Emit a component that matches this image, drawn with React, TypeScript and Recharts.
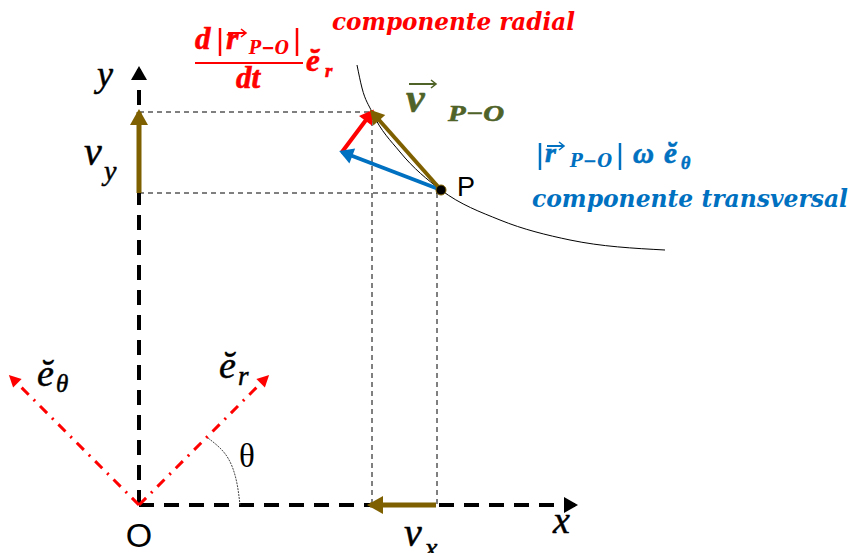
import React from 'react';
import { LineChart, Line, XAxis, YAxis, Customized } from 'recharts';

// diagram coordinates: origin O, x to the right, y up (1 unit = 1 px)
const xAxisLine = [{ x: 0, y: 0 }, { x: 436, y: 0 }];
const yAxisLine = [{ x: 0, y: 0 }, { x: 0, y: 436 }];
const vyArrow = [{ x: 0, y: 312 }, { x: 0, y: 393 }];
const vxArrow = [{ x: 297, y: 0 }, { x: 231, y: 0 }];
const guideTop = [{ x: 0, y: 393 }, { x: 233, y: 393 }];
const guideP = [{ x: 0, y: 312 }, { x: 302, y: 312 }];
const guideTipV = [{ x: 233, y: 393 }, { x: 233, y: 0 }];
const guidePV = [{ x: 298, y: 312 }, { x: 298, y: 0 }];
const velocity = [{ x: 302, y: 315 }, { x: 233, y: 393 }];
const transversal = [{ x: 302, y: 315 }, { x: 203, y: 353 }];
const radial = [{ x: 203, y: 353 }, { x: 233, y: 393 }];
const erAxis = [{ x: 0, y: 0 }, { x: 128, y: 128 }];
const ethAxis = [{ x: 0, y: 0 }, { x: -128, y: 128 }];
const thetaArc = [{ x: 101, y: 0 }, { x: 97, y: 26 }, { x: 87, y: 50 }, { x: 69, y: 67 }];
const trajectory = [
  { x: 218, y: 440 }, { x: 223, y: 417 }, { x: 233, y: 393 }, { x: 261, y: 353 },
  { x: 302, y: 315 }, { x: 361, y: 285 }, { x: 431, y: 265 }, { x: 526, y: 255 },
];
const pointP = [{ x: 302, y: 315 }];

const BROWN = '#7f6000';
const BLUE = '#0070c0';
const RED = '#ff0000';
const GREEN = '#4f6228';

const W = 851;
const H = 553;
const OX = 139;
const OY = 505;

const arrowDot = (data: { x: number; y: number }[], len: number, half: number, color: string) => (props: any) => {
  const { cx, cy, index } = props;
  if (index !== data.length - 1) return <g key={`d-${index}`} />;
  const a = data[index - 1];
  const b = data[index];
  const dx = b.x - a.x;
  const dy = -(b.y - a.y);
  const n = Math.hypot(dx, dy);
  const ux = dx / n;
  const uy = dy / n;
  const tx = cx + ux * 3;
  const ty = cy + uy * 3;
  const bx = tx - ux * len;
  const by = ty - uy * len;
  const px = -uy * half;
  const py = ux * half;
  return (
    <polygon
      key={`d-${index}`}
      points={`${tx},${ty} ${bx + px},${by + py} ${bx - px},${by - py}`}
      fill={color}
    />
  );
};

const dejavu = '"DejaVu Serif", serif';
const times = '"Liberation Serif", serif';
const sans = '"Liberation Sans", Arial, sans-serif';

// small arrow drawn above a vector letter
const OverArrow = ({ x, y, w, color, sw = 2 }: { x: number; y: number; w: number; color: string; sw?: number }) => (
  <g>
    <line x1={x} y1={y} x2={x + w - 1} y2={y} stroke={color} strokeWidth={sw} />
    <polyline points={`${x + w - 5},${y - 4} ${x + w},${y} ${x + w - 5},${y + 4}`} fill="none" stroke={color} strokeWidth={sw * 0.8} />
  </g>
);

// bold italic coloured words
const T = (p: any) => <text fontFamily={dejavu} fontWeight="bold" fontStyle="italic" {...p} />;
// bold italic coloured math letter
const L = (p: any) => (
  <text fontFamily={times} fontWeight="bold" fontStyle="italic" stroke={p.fill} strokeWidth={0.6} {...p} />
);
// italic black math letter
const M = (p: any) => (
  <text fontFamily={times} fontStyle="italic" fill="#000" stroke="#000" strokeWidth={0.5} {...p} />
);
const Bar = ({ x, y1, y2, color }: { x: number; y1: number; y2: number; color: string }) => (
  <line x1={x} y1={y1} x2={x} y2={y2} stroke={color} strokeWidth={2.5} />
);

const Labels = () => (
  <g>
    {/* red radial component */}
    <T x={332} y={30} fill={RED} fontSize={24} textLength={243} lengthAdjust="spacingAndGlyphs">componente radial</T>
    <L x={195} y={49} fill={RED} fontSize={31}>d</L>
    <Bar x={220} y1={28} y2={56} color={RED} />
    <L x={226} y={49} fill={RED} fontSize={32}>r</L>
    <OverArrow x={228} y={33} w={18} color={RED} />
    <T x={249} y={54} fill={RED} fontSize={19} textLength={40} lengthAdjust="spacingAndGlyphs">P−O</T>
    <Bar x={297} y1={28} y2={56} color={RED} />
    <line x1={195} y1={63} x2={303} y2={63} stroke={RED} strokeWidth={2} />
    <L x={248} y={88} fill={RED} fontSize={31} textAnchor="middle">dt</L>
    <L x={306} y={71} fill={RED} fontSize={31}>ĕ</L>
    <L x={325} y={77} fill={RED} fontSize={19}>r</L>

    {/* velocity label */}
    <L x={406} y={112} fill={GREEN} fontSize={42}>v</L>
    <OverArrow x={409} y={84} w={27} color={GREEN} />
    <L x={448} y={121} fill={GREEN} fontSize={23} textLength={56} lengthAdjust="spacingAndGlyphs">P−O</L>

    {/* blue transversal component */}
    <Bar x={540} y1={143} y2={170} color={BLUE} />
    <L x={545} y={162} fill={BLUE} fontSize={28}>r</L>
    <OverArrow x={547} y={146} w={17} color={BLUE} />
    <T x={570} y={167} fill={BLUE} fontSize={18} textLength={42} lengthAdjust="spacingAndGlyphs">P−O</T>
    <Bar x={620} y1={143} y2={170} color={BLUE} />
    <L x={633} y={163} fill={BLUE} fontSize={29}>ω</L>
    <L x={664} y={163} fill={BLUE} fontSize={29}>ĕ</L>
    <L x={681} y={169} fill={BLUE} fontSize={18}>θ</L>
    <T x={532} y={207} fill={BLUE} fontSize={24} textLength={316} lengthAdjust="spacingAndGlyphs">componente  transversal</T>

    {/* black labels */}
    <text x={457} y={196} fill="#000" fontFamily={sans} fontSize={27}>P</text>
    <text x={OX} y={547} fill="#000" fontFamily={sans} fontSize={34} textAnchor="middle">O</text>
    <M x={97} y={86} fontSize={36}>y</M>
    <M x={84} y={165} fontSize={40}>v</M>
    <M x={104} y={180} fontSize={28}>y</M>
    <M x={553} y={533} fontSize={38}>x</M>
    <M x={404} y={546} fontSize={40}>v</M>
    <M x={425} y={557} fontSize={28}>x</M>
    <text x={239} y={467} fill="#000" fontFamily={times} fontSize={33}>θ</text>
    <M x={37} y={386} fontSize={38}>ĕ</M>
    <M x={56} y={392} fontSize={25}>θ</M>
    <M x={219} y={378} fontSize={38}>ĕ</M>
    <M x={238} y={385} fontSize={27}>r</M>
  </g>
);

const seg = (
  key: string,
  data: { x: number; y: number }[],
  stroke: string,
  width: number,
  dash?: string,
  head?: [number, number],
  type: 'linear' | 'monotone' | 'natural' = 'linear'
) => (
  <Line
    key={key}
    data={data}
    dataKey="y"
    type={type}
    stroke={stroke}
    strokeWidth={width}
    strokeDasharray={dash}
    dot={head ? arrowDot(data, head[0], head[1], stroke) : false}
    activeDot={false}
    isAnimationActive={false}
    legendType="none"
  />
);

export default function App() {
  return (
    <div style={{ position: 'absolute', left: 0, top: 0, width: W, height: H, background: '#fff' }}>
      <LineChart width={W} height={H} margin={{ top: 0, right: 0, bottom: 0, left: 0 }}>
        <XAxis type="number" dataKey="x" domain={[-OX, W - OX]} hide allowDataOverflow />
        <YAxis type="number" domain={[OY - H, OY]} hide allowDataOverflow />
        {seg('gTop', guideTop, '#000', 1, '5 4')}
        {seg('gP', guideP, '#000', 1, '5 4')}
        {seg('gTipV', guideTipV, '#000', 1, '5 4')}
        {seg('gPV', guidePV, '#000', 1, '5 4')}
        {seg('xAxis', xAxisLine, '#000', 4, '15 10', [14, 8])}
        {seg('yAxis', yAxisLine, '#000', 4, '15 10', [14, 8])}
        {seg('arc', thetaArc, '#444', 1, '2 1', undefined, 'natural')}
        {seg('er', erAxis, RED, 3, '10 7 2 7', [12, 6])}
        {seg('eth', ethAxis, RED, 3, '10 7 2 7', [12, 6])}
        {seg('traj', trajectory, '#000', 1, undefined, undefined, 'monotone')}
        {seg('vy', vyArrow, BROWN, 5, undefined, [16, 9])}
        {seg('vx', vxArrow, BROWN, 5, undefined, [16, 9])}
        {seg('trans', transversal, BLUE, 4, undefined, [14, 8])}
        {seg('rad', radial, RED, 4, undefined, [14, 8])}
        {seg('vel', velocity, BROWN, 4, undefined, [14, 8])}
        <Line
          data={pointP}
          dataKey="y"
          stroke="none"
          dot={{ r: 5, fill: '#000', stroke: BROWN, strokeWidth: 1 }}
          activeDot={false}
          isAnimationActive={false}
          legendType="none"
        />
        <Customized component={Labels} />
      </LineChart>
    </div>
  );
}
